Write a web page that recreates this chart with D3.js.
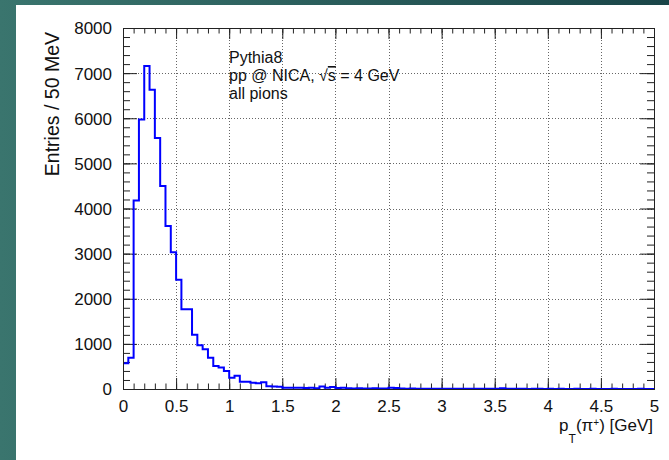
<!DOCTYPE html>
<html>
<head>
<meta charset="utf-8">
<script src="https://cdn.jsdelivr.net/npm/d3@7"></script>
<style>
  body { margin: 0; background: #fff; }
  svg { display: block; font-family: "Liberation Sans", Arial, sans-serif; }
</style>
</head>
<body>
<svg id="chart" width="669" height="460"></svg>
<script>
// pT histogram of all pions, 50 MeV bins from 0 to 5 GeV
var binWidth = 0.05;
var counts = [
  570, 690, 4180, 5970, 7160, 6630, 5560, 4500, 3610, 3030,
  2420, 1770, 1770, 1200, 970, 880, 690, 510, 475, 400,
  250, 295, 160, 160, 140, 125, 150, 60, 55, 50,
  30, 30, 25, 30, 20, 25, 15, 55, 25, 45,
  20, 25, 15, 10, 15, 10, 10, 15, 10, 10,
  25, 20, 10, 5, 10, 5, 5, 5, 5, 5,
  5, 5, 5, 5, 5, 5, 5, 5, 5, 5,
  5, 15, 5, 5, 5, 5, 0, 5, 5, 0,
  5, 0, 5, 0, 0, 5, 0, 0, 5, 0,
  0, 0, 5, 0, 0, 0, 0, 5, 0, 0
];
var xTicks = [0, 0.5, 1, 1.5, 2, 2.5, 3, 3.5, 4, 4.5, 5];
var yTicks = [0, 1000, 2000, 3000, 4000, 5000, 6000, 7000, 8000];
var infoLines = ["Pythia8", "pp @ NICA, ", "all pions"];

var svg = d3.select("#chart"),
    margin = {top: 28, right: 15, bottom: 71, left: 123},
    width = +svg.attr("width") - margin.left - margin.right,
    height = +svg.attr("height") - margin.top - margin.bottom;

// teal slide border
var grad = svg.append("defs").append("linearGradient")
    .attr("id", "bg").attr("x1", 0).attr("x2", 1).attr("y1", 0).attr("y2", 0);
grad.append("stop").attr("offset", "0%").attr("stop-color", "#3a756e");
grad.append("stop").attr("offset", "100%").attr("stop-color", "#1a4548");
svg.append("rect").attr("width", 669).attr("height", 460).attr("fill", "url(#bg)");
svg.append("rect").attr("x", 16).attr("y", 5).attr("width", 653).attr("height", 455).attr("fill", "#fff");

var g = svg.append("g").attr("transform", "translate(" + margin.left + "," + margin.top + ")");

var x = d3.scaleLinear().domain([0, 5]).range([0, width]);
var y = d3.scaleLinear().domain([0, 8000]).range([height, 0]);

// dotted grid at major ticks
g.append("g")
  .selectAll("line")
  .data(xTicks.slice(1, -1))
  .enter().append("line")
    .attr("x1", function(d) { return Math.round(x(d)) + 0.5; })
    .attr("x2", function(d) { return Math.round(x(d)) + 0.5; })
    .attr("y1", 0).attr("y2", height)
    .attr("stroke", "#666").attr("stroke-dasharray", "1,2");

g.append("g")
  .selectAll("line")
  .data(yTicks.slice(1, -1))
  .enter().append("line")
    .attr("y1", function(d) { return Math.round(y(d)) + 0.5; })
    .attr("y2", function(d) { return Math.round(y(d)) + 0.5; })
    .attr("x1", 0).attr("x2", width)
    .attr("stroke", "#666").attr("stroke-dasharray", "1,2");

// ticks pointing inward on all four sides
function styleAxis(sel) {
  sel.select(".domain").remove();
  sel.selectAll(".tick line").attr("stroke", "#222");
}
var xMinor = d3.range(0, 51).map(function(i) { return i / 10; });
var yMinor = d3.range(0, 41).map(function(i) { return i * 200; });

g.append("g").attr("transform", "translate(0," + height + ")")
  .call(d3.axisBottom(x).tickValues(xMinor).tickSize(-5.5).tickFormat(""))
  .call(styleAxis);
g.append("g")
  .call(d3.axisTop(x).tickValues(xMinor).tickSize(-5.5).tickFormat(""))
  .call(styleAxis);
g.append("g")
  .call(d3.axisLeft(y).tickValues(yMinor).tickSize(-7).tickFormat(""))
  .call(styleAxis);
g.append("g").attr("transform", "translate(" + width + ",0)")
  .call(d3.axisRight(y).tickValues(yMinor).tickSize(-7).tickFormat(""))
  .call(styleAxis);

var xAxis = g.append("g").attr("transform", "translate(0," + height + ")")
  .call(d3.axisBottom(x).tickValues(xTicks).tickSize(-11).tickFormat(d3.format("")))
  .call(styleAxis);
g.append("g")
  .call(d3.axisTop(x).tickValues(xTicks).tickSize(-11).tickFormat(""))
  .call(styleAxis);
var yAxis = g.append("g")
  .call(d3.axisLeft(y).tickValues(yTicks).tickSize(-14).tickFormat(d3.format("d")))
  .call(styleAxis);
g.append("g").attr("transform", "translate(" + width + ",0)")
  .call(d3.axisRight(y).tickValues(yTicks).tickSize(-14).tickFormat(""))
  .call(styleAxis);

xAxis.selectAll("text")
  .attr("y", 11).attr("dy", "0.71em")
  .attr("font-size", 17).attr("fill", "#111")
  .attr("font-family", "Liberation Sans, Arial, sans-serif");
yAxis.selectAll("text")
  .attr("x", -11).attr("dy", "0.35em").attr("text-anchor", "end")
  .attr("font-size", 17).attr("fill", "#111")
  .attr("font-family", "Liberation Sans, Arial, sans-serif");

// histogram outline
var steps = counts.map(function(c, i) { return [i * binWidth, c]; });
steps.push([5, counts[counts.length - 1]]);
var line = d3.line()
    .x(function(d) { return x(d[0]); })
    .y(function(d) { return y(d[1]); })
    .curve(d3.curveStepAfter);

g.append("path")
    .datum(steps)
    .attr("d", line)
    .attr("fill", "none")
    .attr("stroke", "#0000ff")
    .attr("stroke-width", 2);

// frame
g.append("rect")
    .attr("x", 0.5).attr("y", 0.5)
    .attr("width", width).attr("height", height)
    .attr("fill", "none").attr("stroke", "#222").attr("stroke-width", 1);

// axis titles
var xt = svg.append("text")
    .attr("x", 653).attr("y", 431)
    .attr("text-anchor", "end")
    .attr("font-size", 17).attr("fill", "#111");
xt.append("tspan").text("p");
xt.append("tspan").attr("dy", 12).attr("font-size", 12).text("T");
xt.append("tspan").attr("dy", -12).text("(\u03c0");
xt.append("tspan").attr("dy", -5).attr("font-size", 10).text("+");
xt.append("tspan").attr("dy", 5).text(") [GeV]");

svg.append("text")
    .attr("transform", "translate(59,32) rotate(-90)")
    .attr("text-anchor", "end")
    .attr("font-size", 19.5).attr("fill", "#111")
    .text("Entries / 50 MeV");

// info text
var info = svg.append("g").attr("font-size", 16).attr("fill", "#111");
info.append("text").attr("x", 229).attr("y", 63).text(infoLines[0]);
var l2 = info.append("text").attr("x", 229).attr("y", 81);
l2.append("tspan").text(infoLines[1] + "\u221a");
l2.append("tspan").attr("text-decoration", "overline").text("s");
l2.append("tspan").text(" = 4 GeV");
info.append("text").attr("x", 229).attr("y", 99).text(infoLines[2]);
</script>
</body>
</html>
